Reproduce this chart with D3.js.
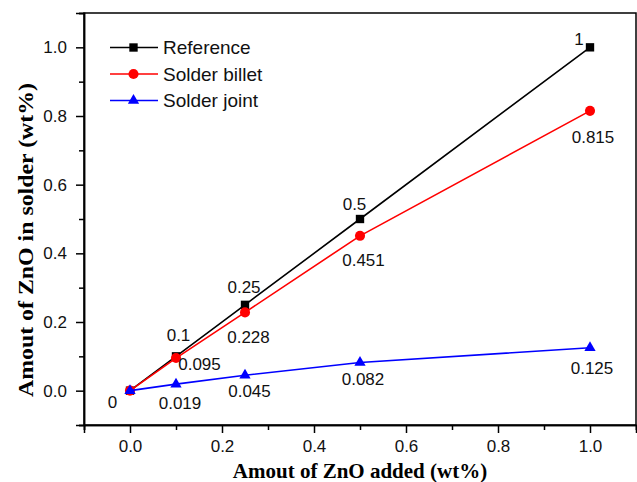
<!DOCTYPE html>
<html>
<head>
<meta charset="utf-8">
<script src="https://cdn.jsdelivr.net/npm/d3@7"></script>
<style>
  body { margin: 0; background: #fff; }
  svg { display: block; }
</style>
</head>
<body>
<svg id="chart" width="637" height="482"></svg>
<script>
// ZnO added vs. ZnO retained
const added = [0, 0.1, 0.25, 0.5, 1.0];
const reference = [0, 0.1, 0.25, 0.5, 1];
const solderBillet = [0, 0.095, 0.228, 0.451, 0.815];
const solderJoint = [0, 0.019, 0.045, 0.082, 0.125];
const referenceLabels = ["0", "0.1", "0.25", "0.5", "1"];
const billetLabels = ["", "0.095", "0.228", "0.451", "0.815"];
const jointLabels = ["", "0.019", "0.045", "0.082", "0.125"];
const seriesNames = ["Reference", "Solder billet", "Solder joint"];
const xTicks = [0.0, 0.2, 0.4, 0.6, 0.8, 1.0];
const yTicks = [0.0, 0.2, 0.4, 0.6, 0.8, 1.0];
const minorTicks = [-0.1, 0.1, 0.3, 0.5, 0.7, 0.9, 1.1];

// label offsets (px) relative to each point
const refOffsets = [[-17.5, 12], [2.5, -21], [-1, -17], [-5.5, -14.5], [-11, -8]];
const billetOffsets = [[0, 0], [23.5, 6], [3.5, 25], [3.5, 25], [3, 26.5]];
const jointOffsets = [[0, 0], [4, 19], [4.5, 16.5], [3, 17], [2, 20.5]];

const svg = d3.select("#chart");
const m = { left: 84, right: 636, top: 13, bottom: 425 };

const x = d3.scaleLinear().domain([-0.1, 1.1]).range([m.left, m.right]);
const y = d3.scaleLinear().domain([-0.1, 1.1]).range([m.bottom, m.top]);

const sans = "'Liberation Sans', Arial, sans-serif";
const serif = "'Liberation Serif', 'Times New Roman', serif";

// frame
svg.append("rect")
  .attr("x", m.left).attr("y", m.top)
  .attr("width", m.right - m.left).attr("height", m.bottom - m.top)
  .attr("fill", "#fff").attr("stroke", "#000").attr("stroke-width", 1.5);

// axes with major + minor ticks
const xAxis = d3.axisBottom(x).tickValues(xTicks).tickFormat(d3.format(".1f")).tickSize(8).tickPadding(7);
const gx = svg.append("g").attr("transform", `translate(0,${m.bottom})`).call(xAxis);
const xMinor = d3.axisBottom(x).tickValues(minorTicks).tickFormat("").tickSize(5);
const gxm = svg.append("g").attr("transform", `translate(0,${m.bottom})`).call(xMinor);

const yAxis = d3.axisLeft(y).tickValues(yTicks).tickFormat(d3.format(".1f")).tickSize(8).tickPadding(9);
const gy = svg.append("g").attr("transform", `translate(${m.left},0)`).call(yAxis);
const yMinor = d3.axisLeft(y).tickValues(minorTicks).tickFormat("").tickSize(5);
const gym = svg.append("g").attr("transform", `translate(${m.left},0)`).call(yMinor);

[gx, gxm, gy, gym].forEach(g => {
  g.select(".domain").attr("stroke", "#000").attr("stroke-width", 1.5);
  g.selectAll(".tick line").attr("stroke", "#000").attr("stroke-width", 1.5);
  g.selectAll(".tick text")
    .attr("fill", "#111")
    .style("font-family", sans)
    .style("font-size", "17px");
});

// axis titles
svg.append("text")
  .attr("x", 360).attr("y", 478)
  .attr("text-anchor", "middle")
  .style("font-family", serif)
  .style("font-weight", "bold").style("font-size", "21px")
  .text("Amout of ZnO added (wt%)");

svg.append("text")
  .attr("transform", "translate(33,240) rotate(-90)")
  .attr("text-anchor", "middle")
  .attr("textLength", 314)
  .attr("lengthAdjust", "spacingAndGlyphs")
  .style("font-family", serif)
  .style("font-weight", "bold").style("font-size", "21px")
  .text("Amout of ZnO in solder (wt%)");

const series = [
  { name: seriesNames[0], values: reference, labels: referenceLabels, offsets: refOffsets, color: "#000000", shape: d3.symbolSquare, size: 70 },
  { name: seriesNames[1], values: solderBillet, labels: billetLabels, offsets: billetOffsets, color: "#ff0000", shape: d3.symbolCircle, size: 80 },
  { name: seriesNames[2], values: solderJoint, labels: jointLabels, offsets: jointOffsets, color: "#0000ff", shape: d3.symbolTriangle, size: 55 }
];

const line = d3.line().x(d => x(d[0])).y(d => y(d[1]));

series.forEach(s => {
  const pts = added.map((a, i) => [a, s.values[i]]);
  const g = svg.append("g");
  g.append("path").datum(pts)
    .attr("d", line).attr("fill", "none")
    .attr("stroke", s.color).attr("stroke-width", 1.6);
  g.selectAll(null).data(pts).enter().append("path")
    .attr("d", d3.symbol().type(s.shape).size(s.size))
    .attr("transform", d => `translate(${x(d[0])},${y(d[1])})`)
    .attr("fill", s.color);
});

// value labels
series.forEach(s => {
  added.forEach((a, i) => {
    if (!s.labels[i]) return;
    svg.append("text")
      .attr("x", x(a) + s.offsets[i][0])
      .attr("y", y(s.values[i]) + s.offsets[i][1])
      .attr("text-anchor", "middle")
      .attr("dominant-baseline", "central")
      .attr("fill", "#111")
      .style("font-family", sans)
      .style("font-size", "17px")
      .text(s.labels[i]);
  });
});

// legend
const legend = svg.append("g");
series.forEach((s, i) => {
  const ly = 47.5 + i * 26.5;
  legend.append("line")
    .attr("x1", 110).attr("x2", 158).attr("y1", ly).attr("y2", ly)
    .attr("stroke", s.color).attr("stroke-width", 1.6);
  legend.append("path")
    .attr("d", d3.symbol().type(s.shape).size(s.size))
    .attr("transform", `translate(133.5,${ly})`)
    .attr("fill", s.color);
  legend.append("text")
    .attr("x", 163).attr("y", ly)
    .attr("dominant-baseline", "central")
    .attr("fill", "#111")
    .style("font-family", sans)
    .style("font-size", "19px")
    .text(s.name);
});
</script>
</body>
</html>
